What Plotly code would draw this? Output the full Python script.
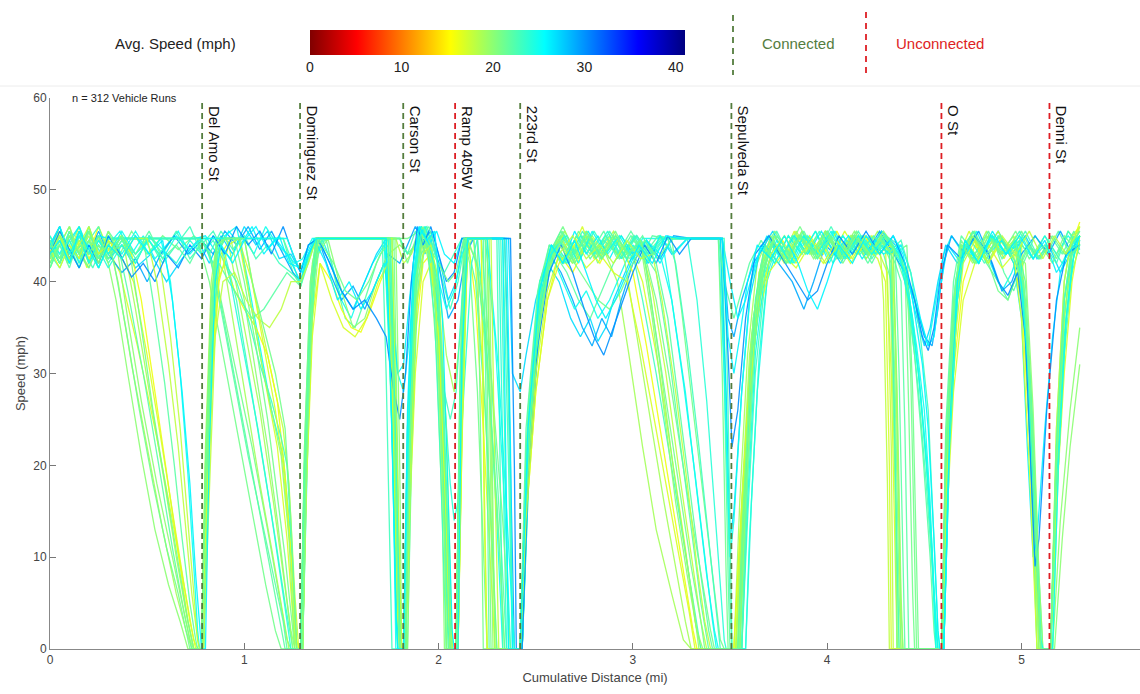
import plotly.graph_objects as go
from plotly.colors import sample_colorscale

# ---------------- data ----------------
intersection_names = ["Del Amo St", "Dominguez St", "Carson St", "Ramp 405W", "223rd St",
                      "Sepulveda St", "O St", "Denni St"]
intersection_mi = [0.783, 1.287, 1.818, 2.085, 2.42, 3.507, 4.588, 5.144]
intersection_connected = [True, True, True, False, True, True, False, False]

x_ticks = [0, 1, 2, 3, 4, 5]
y_ticks = [0, 10, 20, 30, 40, 50, 60]
cbar_ticks = [0, 10, 20, 30, 40]
n_runs_total = 312

# average speed (mph) of each drawn run -> colour
avg_speed = [17, 21, 23, 25, 19, 22, 27, 18, 22, 23, 29, 16, 21, 25, 20,
             23, 19, 26, 22, 24, 17, 23, 21, 30, 20, 25, 18, 22, 21, 26]

# each run: (cumulative distance mi, speed mph)
run01 = [(0,42.5),(0.04,45.5),(0.09,42),(0.14,44.5),(0.19,41.5),(0.24,45),(0.3,43.5),(0.36,41),(0.45,33),(0.55,23),(0.63,14),(0.7,6),(0.74,1),(0.76,0),(0.79,0),(0.81,16),(0.84,33),(0.88,43),(0.93,44.7),(0.97,44.7),(1.03,38),(1.1,30),(1.17,22),(1.22,12),(1.255,2),(1.27,0),(1.3,0),(1.32,22),(1.35,40),(1.39,44.7),(1.74,44.7),(1.77,28),(1.795,6),(1.81,0),(1.83,0),(1.85,22),(1.88,41),(1.92,44.5),(1.97,43),(2.0,34),(2.04,12),(2.06,0),(2.09,0),(2.11,28),(2.14,44.7),(2.18,44.7),(2.23,30),(2.27,12),(2.3,0),(2.42,0),(2.45,20),(2.5,36),(2.56,42),(2.62,45),(2.68,43),(2.74,46),(2.8,42.5),(2.86,45),(2.92,43),(2.98,44),(3.05,40),(3.13,31),(3.2,21),(3.27,11),(3.32,3),(3.35,0),(3.54,0),(3.57,14),(3.61,30),(3.66,40),(3.71,44),(3.77,42.5),(3.83,45.5),(3.89,43),(3.95,45),(4.02,42.5),(4.09,45.5),(4.16,43),(4.23,45),(4.3,43.5),(4.33,30),(4.35,10),(4.36,0),(4.59,0),(4.61,18),(4.64,34),(4.68,43),(4.73,45.5),(4.79,43),(4.85,45),(4.91,42.5),(4.97,45),(5.02,36),(5.06,18),(5.09,4),(5.1,0),(5.15,0),(5.18,20),(5.22,36),(5.26,43),(5.3,46)]
run02 = [(0,44),(0.05,42),(0.1,45),(0.15,43),(0.2,46),(0.25,42.5),(0.3,44.5),(0.36,43),(0.42,45.5),(0.5,43),(0.58,45),(0.66,43.5),(0.74,45),(0.8,44),(0.86,40),(0.95,31),(1.04,22),(1.12,13),(1.18,6),(1.22,1),(1.24,0),(1.29,0),(1.31,20),(1.34,38),(1.37,44.7),(1.84,44.7),(1.9,45.5),(1.95,43),(1.99,36),(2.02,18),(2.04,4),(2.05,0),(2.09,0),(2.11,26),(2.13,44.7),(2.16,42),(2.2,28),(2.23,10),(2.25,0),(2.42,0),(2.46,22),(2.52,38),(2.58,43.5),(2.64,46),(2.7,43),(2.76,45),(2.82,42),(2.88,44.5),(2.94,42.5),(3.0,45),(3.06,43),(3.12,38),(3.2,28),(3.28,17),(3.35,8),(3.4,2),(3.42,0),(3.55,0),(3.58,16),(3.62,32),(3.67,42),(3.73,45),(3.79,43),(3.86,46),(3.93,43),(4.0,45),(4.07,42.5),(4.14,45),(4.21,43),(4.28,45.5),(4.35,43),(4.41,44),(4.44,28),(4.46,8),(4.47,0),(4.59,0),(4.62,22),(4.66,38),(4.7,44),(4.76,45.5),(4.82,42.5),(4.88,45),(4.94,43),(5.0,45.5),(5.06,43),(5.12,45),(5.18,42.5),(5.24,45.5),(5.3,44)]
run03 = [(0,43),(0.05,45),(0.1,42.5),(0.16,44),(0.22,41.5),(0.28,44.5),(0.32,44.7),(0.78,44.7),(1.2,44.7),(1.25,42),(1.29,39.5),(1.33,43),(1.37,44.7),(1.72,44.7),(1.75,30),(1.78,10),(1.79,0),(1.83,0),(1.86,25),(1.89,42),(1.93,46),(1.97,44),(2.02,40),(2.06,37),(2.1,40),(2.14,44.7),(2.33,44.7),(2.36,20),(2.38,0),(2.43,0),(2.47,25),(2.53,40),(2.6,44),(2.67,42),(2.74,45.5),(2.81,43),(2.88,45),(2.95,42.5),(3.02,45),(3.09,43),(3.16,44.7),(3.46,44.7),(3.48,25),(3.5,5),(3.51,0),(3.55,0),(3.58,20),(3.62,36),(3.67,43),(3.74,45.5),(3.81,42.5),(3.88,45),(3.95,43),(4.02,46),(4.09,43),(4.16,45),(4.23,42.5),(4.3,45),(4.37,43),(4.42,38),(4.47,28),(4.51,18),(4.55,6),(4.57,0),(4.6,0),(4.63,24),(4.67,40),(4.71,44.5),(4.78,42.5),(4.85,45),(4.92,43),(4.99,44.5),(5.03,33),(5.07,14),(5.09,2),(5.1,0),(5.15,0),(5.18,22),(5.22,38),(5.26,44),(5.3,45.5)]
run04 = [(0,44.5),(0.05,42.5),(0.1,45.5),(0.15,43),(0.2,44.5),(0.25,41.5),(0.3,44),(0.36,45.5),(0.42,43),(0.48,45),(0.54,42.5),(0.6,44),(0.66,45.5),(0.72,43),(0.78,44.5),(0.84,42),(0.9,45),(0.96,46),(1.02,40),(1.08,33),(1.14,26),(1.2,21),(1.24,12),(1.26,3),(1.27,0),(1.3,0),(1.33,25),(1.36,41),(1.4,44.7),(1.45,42),(1.5,38),(1.55,36),(1.6,39),(1.66,42),(1.72,44),(1.76,38),(1.79,30),(1.82,28),(1.85,34),(1.88,42),(1.91,46),(1.95,44),(2.0,35),(2.03,15),(2.05,2),(2.06,0),(2.1,0),(2.12,30),(2.15,44.7),(2.2,44.7),(2.25,32),(2.3,14),(2.33,0),(2.42,0),(2.45,18),(2.5,34),(2.56,42),(2.63,45),(2.7,43),(2.77,45.5),(2.84,42.5),(2.91,44.5),(2.98,42),(3.05,44.7),(3.15,44.7),(3.2,38),(3.27,28),(3.33,17),(3.38,8),(3.42,2),(3.44,0),(3.58,0),(3.6,12),(3.64,28),(3.69,40),(3.75,44),(3.82,42),(3.89,45),(3.96,43),(4.03,45.5),(4.1,42.5),(4.17,45),(4.24,43),(4.31,44.5),(4.38,42),(4.44,39),(4.49,35),(4.52,33),(4.56,38),(4.6,43),(4.64,45),(4.7,43),(4.77,45.5),(4.84,42),(4.9,39),(4.95,41),(5.0,44),(5.06,42.5),(5.12,45),(5.18,43),(5.24,45),(5.3,43.5)]
run05 = [(0,41.5),(0.05,44),(0.1,46),(0.15,43),(0.2,45),(0.25,42),(0.3,44.5),(0.35,40),(0.42,31),(0.5,22),(0.58,13),(0.65,6),(0.7,2),(0.73,0),(0.78,0),(0.8,18),(0.83,36),(0.86,44),(0.9,44.7),(0.92,44),(1.0,35),(1.08,26),(1.15,16),(1.2,8),(1.24,2),(1.26,0),(1.29,0),(1.32,24),(1.35,42),(1.38,44.7),(1.76,44.7),(1.78,22),(1.8,4),(1.81,0),(1.83,0),(1.85,20),(1.88,40),(1.92,44),(1.96,43),(2.0,40),(2.04,32),(2.08,28),(2.11,34),(2.14,42),(2.17,44.7),(2.25,44.7),(2.27,22),(2.29,0),(2.42,0),(2.46,20),(2.52,36),(2.58,43),(2.65,45.5),(2.72,42.5),(2.79,45),(2.86,43),(2.92,40),(2.98,32),(3.05,22),(3.12,13),(3.2,6),(3.26,1),(3.3,0),(3.52,0),(3.55,16),(3.59,32),(3.64,42),(3.7,45),(3.77,42.5),(3.84,45.5),(3.91,43),(3.98,45),(4.05,42.5),(4.12,45),(4.19,43),(4.26,45.5),(4.32,43),(4.34,26),(4.36,6),(4.37,0),(4.59,0),(4.61,20),(4.65,36),(4.69,44),(4.75,42.5),(4.82,45.5),(4.89,43),(4.96,45),(5.01,38),(5.05,20),(5.08,6),(5.1,0),(5.15,0),(5.18,18),(5.22,34),(5.26,42),(5.3,45)]
run06 = [(0,44),(0.05,42),(0.1,44.5),(0.15,42.5),(0.2,46),(0.25,43),(0.3,44.7),(0.8,44.7),(0.85,41),(0.92,33),(1.0,24),(1.07,16),(1.13,9),(1.18,3),(1.21,0),(1.29,0),(1.31,18),(1.34,36),(1.37,43),(1.42,44.7),(1.47,40),(1.52,36),(1.57,35),(1.62,38),(1.68,42),(1.74,44.7),(1.8,44.7),(1.84,43),(1.88,44),(1.92,45.5),(1.96,43),(2.0,33),(2.03,14),(2.04,0),(2.09,0),(2.12,28),(2.15,44.7),(2.22,44.7),(2.27,30),(2.32,12),(2.35,0),(2.43,0),(2.47,24),(2.53,38),(2.6,43),(2.66,41),(2.72,38),(2.78,36),(2.84,39),(2.9,42),(2.96,44),(3.03,42),(3.1,45),(3.17,44.7),(3.45,44.7),(3.47,30),(3.49,8),(3.5,0),(3.54,0),(3.57,18),(3.61,34),(3.66,42),(3.72,44.5),(3.79,42),(3.86,45),(3.93,43),(4.0,45.5),(4.07,42.5),(4.14,45),(4.21,43),(4.28,45),(4.35,43),(4.4,40),(4.45,32),(4.49,22),(4.53,10),(4.55,2),(4.56,0),(4.6,0),(4.63,22),(4.67,38),(4.71,44),(4.78,42.5),(4.85,45),(4.91,41),(4.96,39),(5.01,42),(5.07,45),(5.13,43),(5.19,45.5),(5.25,43),(5.3,44.5)]
run07 = [(0,43.5),(0.05,46),(0.1,43),(0.15,45.5),(0.2,42),(0.25,44),(0.3,42.5),(0.37,44),(0.44,41.5),(0.52,43),(0.6,40),(0.68,42.5),(0.76,44.5),(0.82,42),(0.88,45),(0.94,43),(1.0,46),(1.06,44),(1.12,45.5),(1.18,42.5),(1.24,43),(1.29,41),(1.33,44),(1.38,44.7),(1.44,42),(1.5,39),(1.56,37),(1.62,40),(1.68,43),(1.73,44.7),(1.76,26),(1.78,6),(1.79,0),(1.82,0),(1.84,24),(1.87,40),(1.9,46),(1.93,43),(1.97,45.5),(2.01,42),(2.05,38),(2.09,40),(2.13,44.7),(2.36,44.7),(2.38,30),(2.4,29),(2.42,28),(2.45,32),(2.5,38),(2.56,42),(2.62,40),(2.68,36),(2.73,34),(2.78,36),(2.82,33.5),(2.86,35),(2.9,38),(2.96,41),(3.02,44),(3.08,42),(3.14,45),(3.2,43),(3.28,44.7),(3.45,44.7),(3.48,28),(3.5,12),(3.52,15),(3.56,28),(3.6,38),(3.65,43),(3.72,45.5),(3.79,42.5),(3.86,45),(3.93,43),(4.0,44.5),(4.07,42),(4.14,45),(4.21,43),(4.28,45.5),(4.35,44),(4.4,42),(4.45,37),(4.5,33),(4.53,35),(4.57,40),(4.61,44),(4.67,42),(4.74,45),(4.81,43),(4.88,45.5),(4.95,43),(5.02,45),(5.08,42.5),(5.14,44),(5.2,41),(5.25,43),(5.3,45)]
run08 = [(0,42),(0.05,45),(0.1,43),(0.15,46),(0.2,42.5),(0.25,44.5),(0.3,43),(0.37,45),(0.44,43),(0.5,44.7),(0.56,43),(0.62,34),(0.67,24),(0.71,14),(0.74,6),(0.76,1),(0.77,0),(0.79,0),(0.82,20),(0.85,38),(0.88,44.7),(1.0,44.7),(1.05,39),(1.1,34),(1.15,29),(1.2,24),(1.23,18),(1.26,6),(1.28,0),(1.3,0),(1.32,22),(1.35,40),(1.38,44.7),(1.78,44.7),(1.82,42),(1.86,43),(1.9,45),(1.94,43),(1.98,39),(2.02,24),(2.05,8),(2.07,0),(2.1,0),(2.12,24),(2.14,44.7),(2.22,44.7),(2.235,18),(2.25,0),(2.42,0),(2.45,16),(2.5,32),(2.56,41),(2.62,44.5),(2.69,42),(2.76,45),(2.83,43),(2.9,45.5),(2.97,43),(3.04,44),(3.1,39),(3.17,30),(3.24,19),(3.3,10),(3.35,3),(3.38,0),(3.53,0),(3.56,14),(3.6,30),(3.65,41),(3.71,44.5),(3.78,42),(3.85,45),(3.92,43),(3.99,45.5),(4.06,43),(4.13,45),(4.2,42.5),(4.27,44.5),(4.29,38),(4.31,18),(4.32,0),(4.59,0),(4.61,16),(4.64,32),(4.68,42),(4.74,45),(4.81,43),(4.88,45.5),(4.95,42.5),(5.0,44),(5.04,30),(5.07,12),(5.09,0),(5.15,0),(5.18,24),(5.22,40),(5.26,45),(5.3,46)]
run09 = [(0,45),(0.05,42.5),(0.1,44),(0.15,41.5),(0.2,44.5),(0.25,43),(0.3,45.5),(0.35,44),(0.4,39),(0.48,30),(0.56,20),(0.63,11),(0.69,4),(0.73,0),(0.78,0),(0.8,16),(0.83,34),(0.86,43),(0.9,44.7),(1.2,44.7),(1.25,41),(1.29,39.5),(1.32,42),(1.36,44.7),(1.75,44.7),(1.77,26),(1.79,8),(1.8,0),(1.83,0),(1.85,18),(1.88,36),(1.91,43),(1.95,44.5),(1.99,41),(2.02,30),(2.05,12),(2.07,0),(2.09,0),(2.11,22),(2.14,44.7),(2.19,40),(2.24,26),(2.28,10),(2.3,0),(2.42,0),(2.45,22),(2.51,38),(2.57,44),(2.64,42),(2.71,45),(2.78,42.5),(2.85,44.5),(2.92,43),(2.99,45.5),(3.06,43),(3.13,45),(3.2,44.7),(3.44,44.7),(3.47,40),(3.52,36),(3.56,39),(3.6,42),(3.66,44.5),(3.73,42),(3.8,45),(3.87,43),(3.94,45.5),(4.01,42.5),(4.08,45),(4.15,43),(4.22,45),(4.29,43),(4.33,40),(4.35,20),(4.36,0),(4.59,0),(4.61,20),(4.65,36),(4.69,43),(4.75,45.5),(4.82,42),(4.88,40),(4.93,38),(4.98,41),(5.03,44),(5.09,42.5),(5.15,45),(5.21,43),(5.27,45.5),(5.3,44)]
run10 = [(0,43),(0.05,41.5),(0.1,44),(0.15,46),(0.2,43.5),(0.25,45),(0.3,42),(0.37,44.5),(0.44,42),(0.51,45),(0.58,43),(0.65,45.5),(0.72,42.5),(0.78,44),(0.84,45.5),(0.9,43),(0.96,38),(1.03,29),(1.1,20),(1.16,12),(1.21,5),(1.24,1),(1.25,0),(1.3,0),(1.32,20),(1.35,38),(1.38,44.7),(1.73,44.7),(1.76,24),(1.78,5),(1.79,0),(1.82,0),(1.84,22),(1.87,40),(1.9,45.5),(1.94,46),(1.98,43),(2.03,41),(2.08,43),(2.12,44.7),(2.3,44.7),(2.32,16),(2.33,0),(2.43,0),(2.47,22),(2.53,37),(2.59,43),(2.66,45),(2.73,42.5),(2.8,45.5),(2.87,43),(2.94,45),(3.0,43),(3.05,38),(3.12,30),(3.19,21),(3.26,12),(3.32,4),(3.35,0),(3.56,0),(3.59,14),(3.63,30),(3.68,40),(3.74,44),(3.81,42),(3.88,45),(3.95,42.5),(4.02,44.5),(4.09,43),(4.16,45.5),(4.23,43),(4.3,45),(4.37,44),(4.42,39),(4.47,30),(4.51,20),(4.54,10),(4.56,0),(4.59,0),(4.62,24),(4.66,40),(4.7,44),(4.77,42),(4.84,45),(4.91,43),(4.97,44.5),(5.02,34),(5.06,16),(5.08,4),(5.09,0),(5.15,0),(5.18,16),(5.22,32),(5.26,41),(5.3,44)]
run11 = [(0,44),(0.05,46),(0.1,42.5),(0.15,45),(0.2,43),(0.25,45.5),(0.3,43),(0.37,41),(0.44,42.5),(0.5,40),(0.57,43),(0.64,45),(0.71,43),(0.78,44.5),(0.84,43),(0.9,45.5),(0.96,44),(1.02,46),(1.08,43.5),(1.14,45.5),(1.2,43),(1.25,41),(1.29,40),(1.33,43),(1.38,44.7),(1.44,41),(1.5,38),(1.56,39.5),(1.62,37),(1.68,40),(1.74,43),(1.8,42),(1.84,44),(1.88,46),(1.92,44.5),(1.96,45.5),(2.0,42),(2.05,36),(2.1,38),(2.14,43),(2.18,44.7),(2.34,44.7),(2.36,30),(2.38,12),(2.39,0),(2.43,0),(2.46,20),(2.51,36),(2.57,43),(2.63,41),(2.69,38),(2.74,35),(2.79,33),(2.84,36),(2.89,34),(2.94,38),(3.0,42),(3.07,44.5),(3.14,42.5),(3.21,45),(3.3,44.7),(3.46,44.7),(3.49,36),(3.52,34),(3.56,38),(3.62,42),(3.68,44),(3.75,42),(3.82,40),(3.88,37),(3.93,40),(3.99,44),(4.06,42.5),(4.13,45),(4.2,43),(4.27,45.5),(4.34,43),(4.4,41),(4.45,38),(4.5,34),(4.54,33),(4.57,37),(4.6,42),(4.64,45),(4.71,43),(4.78,45.5),(4.85,42),(4.9,39),(4.95,40),(5.0,43),(5.07,45),(5.14,43),(5.2,45.5),(5.26,43),(5.3,44.5)]
run12 = [(0,43),(0.05,45),(0.1,42),(0.15,44.5),(0.2,43),(0.25,46),(0.3,43.5),(0.36,45),(0.42,43),(0.47,38),(0.54,28),(0.61,18),(0.67,9),(0.71,3),(0.74,0),(0.78,0),(0.8,14),(0.83,30),(0.86,40),(0.9,42),(0.95,39),(1.0,37),(1.06,35),(1.12,32),(1.17,27),(1.21,19),(1.25,8),(1.27,1),(1.28,0),(1.3,0),(1.32,20),(1.35,36),(1.39,42),(1.45,40),(1.5,37),(1.55,35),(1.6,34.5),(1.65,37),(1.7,40),(1.74,42),(1.77,24),(1.79,6),(1.8,0),(1.83,0),(1.85,16),(1.88,34),(1.92,42),(1.96,43),(2.0,36),(2.03,20),(2.06,4),(2.07,0),(2.1,0),(2.12,24),(2.15,44.7),(2.19,38),(2.23,24),(2.27,8),(2.29,0),(2.42,0),(2.45,14),(2.5,28),(2.56,38),(2.62,43),(2.69,41),(2.76,44),(2.83,42),(2.9,45),(2.97,42.5),(3.0,41),(3.07,33),(3.14,24),(3.21,15),(3.27,7),(3.31,2),(3.33,0),(3.52,0),(3.55,12),(3.59,26),(3.64,37),(3.7,42),(3.77,44.5),(3.84,42),(3.91,45),(3.98,43),(4.05,45.5),(4.12,42.5),(4.19,45),(4.26,43),(4.33,44),(4.35,34),(4.37,12),(4.38,0),(4.59,0),(4.61,14),(4.65,30),(4.7,40),(4.76,44),(4.83,42),(4.9,44.5),(4.96,42),(5.0,38),(5.04,24),(5.07,8),(5.08,0),(5.15,0),(5.18,20),(5.22,36),(5.26,44),(5.3,46.5)]
run13 = [(0,41.5),(0.05,44.5),(0.1,42),(0.15,45),(0.2,43.5),(0.25,41.5),(0.3,44),(0.34,44.7),(0.76,44.7),(0.82,40),(0.9,31),(0.98,22),(1.05,14),(1.11,7),(1.16,2),(1.19,0),(1.29,0),(1.31,22),(1.34,40),(1.37,44.7),(1.77,44.7),(1.79,20),(1.8,0),(1.83,0),(1.85,26),(1.88,42),(1.92,45),(1.96,43),(2.0,38),(2.03,22),(2.05,6),(2.06,0),(2.09,0),(2.11,30),(2.13,44.7),(2.2,44.7),(2.22,18),(2.23,0),(2.42,0),(2.46,26),(2.52,40),(2.58,44),(2.65,42),(2.72,45.5),(2.79,43),(2.86,45),(2.93,42.5),(3.0,44.5),(3.07,43),(3.14,44.7),(3.2,44.7),(3.25,37),(3.31,26),(3.37,15),(3.42,6),(3.45,1),(3.47,0),(3.55,0),(3.58,18),(3.62,34),(3.67,42),(3.73,45),(3.8,42.5),(3.87,45.5),(3.94,43),(4.01,45),(4.08,42),(4.15,44.5),(4.22,43),(4.29,45),(4.36,43),(4.4,42),(4.42,26),(4.44,6),(4.45,0),(4.59,0),(4.61,22),(4.65,38),(4.69,44.5),(4.76,42),(4.83,45),(4.9,43),(4.97,45.5),(5.04,42.5),(5.1,44),(5.16,42),(5.22,45),(5.3,43)]
run14 = [(0,44.5),(0.05,43),(0.1,45.5),(0.15,42),(0.2,44),(0.25,42.5),(0.3,45),(0.37,43),(0.44,45.5),(0.51,43),(0.57,44.7),(0.62,40),(0.67,30),(0.71,19),(0.74,9),(0.76,2),(0.77,0),(0.79,0),(0.81,20),(0.84,38),(0.87,44),(0.93,42.5),(0.99,45),(1.05,43),(1.11,46),(1.17,44),(1.22,43),(1.26,42),(1.3,42.5),(1.35,44.7),(1.72,44.7),(1.75,32),(1.77,14),(1.78,0),(1.82,0),(1.84,20),(1.87,38),(1.9,45),(1.93,46),(1.97,43),(2.01,34),(2.04,16),(2.06,3),(2.07,0),(2.1,0),(2.12,26),(2.15,44.7),(2.24,44.7),(2.29,34),(2.34,16),(2.37,0),(2.42,0),(2.46,24),(2.52,40),(2.58,43),(2.64,40),(2.7,37),(2.76,39),(2.82,36),(2.88,38),(2.94,41),(3.0,44),(3.07,42),(3.14,45),(3.21,43),(3.28,44.7),(3.44,44.7),(3.47,30),(3.49,16),(3.5,10),(3.52,14),(3.56,28),(3.61,40),(3.66,44),(3.73,42),(3.8,45),(3.87,43),(3.94,45.5),(4.01,42),(4.08,45),(4.15,43),(4.22,44.5),(4.29,43),(4.36,44),(4.41,40),(4.46,33),(4.5,26),(4.53,16),(4.55,5),(4.56,0),(4.6,0),(4.63,24),(4.67,40),(4.71,44),(4.78,42),(4.85,45),(4.92,43),(4.98,44),(5.02,36),(5.05,24),(5.08,10),(5.1,0),(5.15,0),(5.18,22),(5.22,38),(5.26,43),(5.3,44.5)]
run15 = [(0,44),(0.05,42),(0.1,45),(0.15,43.5),(0.2,41.5),(0.25,44),(0.3,42),(0.34,38),(0.4,30),(0.47,21),(0.54,13),(0.61,7),(0.67,3),(0.71,0),(0.78,0),(0.8,20),(0.83,38),(0.86,44.7),(0.93,44.7),(1.0,38),(1.06,30),(1.12,22),(1.17,14),(1.21,7),(1.24,2),(1.25,0),(1.3,0),(1.32,18),(1.35,36),(1.38,43),(1.43,44.7),(1.5,39),(1.56,35),(1.62,36),(1.68,40),(1.74,43),(1.8,44),(1.85,43),(1.9,45),(1.95,43.5),(1.99,32),(2.02,14),(2.03,0),(2.09,0),(2.11,22),(2.14,44.7),(2.25,44.7),(2.27,14),(2.28,0),(2.42,0),(2.45,18),(2.51,34),(2.57,42),(2.63,45),(2.7,42),(2.77,44.5),(2.84,42.5),(2.91,45),(2.98,43),(3.04,44),(3.1,36),(3.16,26),(3.22,16),(3.28,8),(3.33,2),(3.36,0),(3.54,0),(3.57,16),(3.61,32),(3.66,41),(3.72,44),(3.79,42),(3.86,45),(3.93,42.5),(4.0,45),(4.07,43),(4.14,45.5),(4.21,43),(4.28,44.5),(4.33,42),(4.35,22),(4.36,0),(4.59,0),(4.61,18),(4.65,34),(4.69,43),(4.75,45),(4.82,42),(4.89,44.5),(4.96,42.5),(5.01,40),(5.05,28),(5.08,12),(5.1,0),(5.16,0),(5.2,14),(5.25,26),(5.3,35)]
run16 = [(0,42.5),(0.05,45),(0.1,43.5),(0.15,41.5),(0.2,44.5),(0.25,46),(0.3,43),(0.37,45),(0.44,42.5),(0.51,44.5),(0.58,42),(0.65,44),(0.72,46),(0.78,43),(0.84,44.5),(0.9,42),(0.96,40),(1.02,36),(1.08,31),(1.14,27),(1.19,23),(1.22,20),(1.25,9),(1.27,0),(1.29,0),(1.31,16),(1.34,34),(1.37,43),(1.41,44.7),(1.8,44.7),(1.84,43),(1.88,45.5),(1.92,44),(1.96,45),(2.0,36),(2.03,28),(2.06,25),(2.09,28),(2.12,38),(2.15,44.7),(2.32,44.7),(2.345,18),(2.36,0),(2.42,0),(2.45,20),(2.5,35),(2.56,42),(2.62,44.5),(2.69,42.5),(2.76,45.5),(2.83,43),(2.9,45),(2.97,42.5),(3.04,44.5),(3.11,43),(3.18,44.7),(3.22,42),(3.28,33),(3.34,22),(3.39,12),(3.43,4),(3.45,0),(3.53,0),(3.56,14),(3.6,28),(3.65,39),(3.71,44),(3.78,42.5),(3.85,45),(3.92,43),(3.99,45.5),(4.06,42.5),(4.13,44.5),(4.2,43),(4.27,45),(4.32,43.5),(4.34,32),(4.36,10),(4.37,0),(4.59,0),(4.61,16),(4.64,32),(4.68,42),(4.74,44.5),(4.81,42),(4.88,45),(4.95,43),(5.02,45.5),(5.09,42.5),(5.15,44),(5.21,42),(5.27,45),(5.3,44)]
run17 = [(0,43),(0.05,45.5),(0.1,43),(0.15,44.5),(0.2,42),(0.25,45),(0.3,43),(0.38,44),(0.44,37),(0.52,27),(0.59,18),(0.65,10),(0.7,4),(0.74,0),(0.78,0),(0.8,22),(0.83,40),(0.86,44.7),(0.88,44),(0.94,36),(1.01,27),(1.08,18),(1.14,11),(1.19,5),(1.22,1),(1.23,0),(1.29,0),(1.31,20),(1.34,38),(1.37,44.7),(1.74,44.7),(1.77,22),(1.79,4),(1.8,0),(1.83,0),(1.85,22),(1.88,40),(1.92,45.5),(1.96,43),(2.0,38),(2.03,20),(2.05,4),(2.06,0),(2.09,0),(2.11,26),(2.14,44.7),(2.2,42),(2.26,28),(2.31,12),(2.34,0),(2.42,0),(2.45,20),(2.51,36),(2.57,43),(2.64,45),(2.71,42.5),(2.78,45),(2.85,43),(2.92,44.5),(2.96,42),(3.02,34),(3.09,25),(3.16,16),(3.22,9),(3.27,3),(3.3,0),(3.53,0),(3.56,16),(3.6,32),(3.65,41),(3.71,45),(3.78,42.5),(3.85,45),(3.92,43),(3.99,45.5),(4.06,43),(4.13,45),(4.2,42.5),(4.27,44.5),(4.34,43),(4.36,28),(4.38,6),(4.39,0),(4.59,0),(4.61,20),(4.65,36),(4.69,44),(4.75,42),(4.82,45),(4.89,43),(4.96,44.5),(5.01,37),(5.05,20),(5.08,5),(5.09,0),(5.15,0),(5.18,24),(5.22,40),(5.26,45),(5.3,45.5)]
run18 = [(0,44),(0.05,42),(0.1,44.5),(0.15,46),(0.2,43),(0.25,45),(0.3,44.7),(0.75,44.7),(0.8,45),(0.86,43),(0.92,45.5),(0.98,44),(1.04,46),(1.1,43),(1.16,44.7),(1.22,43),(1.29,40),(1.32,43),(1.36,44.7),(1.42,42),(1.48,38),(1.54,40),(1.6,37),(1.66,39),(1.72,42),(1.76,36),(1.79,30),(1.82,31),(1.85,38),(1.88,44),(1.91,46),(1.95,44),(1.99,45.5),(2.03,43),(2.08,42),(2.12,44.7),(2.35,44.7),(2.37,22),(2.38,0),(2.43,0),(2.46,22),(2.52,38),(2.58,44),(2.64,42),(2.7,45.5),(2.76,43),(2.82,45),(2.88,42.5),(2.94,45),(3.0,43),(3.07,44.5),(3.14,42),(3.2,44.7),(3.46,44.7),(3.5,40),(3.54,36),(3.58,38),(3.63,42),(3.69,45),(3.76,42.5),(3.83,45),(3.9,43),(3.97,45.5),(4.04,43),(4.11,45),(4.18,42.5),(4.25,44.5),(4.32,43),(4.38,44),(4.43,41),(4.48,36),(4.52,33),(4.55,34),(4.58,39),(4.62,44),(4.69,42),(4.76,45),(4.83,43),(4.9,44.5),(4.96,42),(5.0,36),(5.03,22),(5.06,10),(5.08,12),(5.12,24),(5.16,34),(5.2,41),(5.25,44),(5.3,45)]
run19 = [(0,42),(0.05,44),(0.1,41.5),(0.15,45),(0.2,43),(0.25,44.5),(0.3,42.5),(0.36,44.7),(0.48,44.7),(0.53,38),(0.59,29),(0.64,20),(0.68,12),(0.72,5),(0.75,1),(0.76,0),(0.79,0),(0.81,18),(0.84,35),(0.87,42),(0.92,40),(0.98,38),(1.04,36),(1.1,37),(1.16,39),(1.22,41),(1.29,39.5),(1.33,42),(1.37,44.7),(1.76,44.7),(1.78,24),(1.8,6),(1.81,0),(1.84,0),(1.86,20),(1.89,38),(1.93,44),(1.97,42),(2.01,28),(2.04,10),(2.05,0),(2.09,0),(2.11,20),(2.14,44.7),(2.23,44.7),(2.25,20),(2.26,0),(2.42,0),(2.45,24),(2.51,39),(2.57,44),(2.64,42),(2.71,45),(2.78,43),(2.85,45.5),(2.92,42.5),(2.99,45),(3.06,43),(3.12,41),(3.18,33),(3.24,23),(3.3,13),(3.35,5),(3.39,0),(3.54,0),(3.57,15),(3.61,30),(3.66,40),(3.72,44.5),(3.79,42),(3.86,45),(3.93,43),(4.0,45.5),(4.07,43),(4.14,44.5),(4.21,42),(4.28,45),(4.35,42),(4.38,40),(4.4,24),(4.42,0),(4.59,0),(4.61,24),(4.65,40),(4.69,45),(4.76,43),(4.83,45.5),(4.9,42.5),(4.97,44.5),(5.02,40),(5.06,24),(5.09,8),(5.11,0),(5.16,0),(5.19,20),(5.23,36),(5.27,43),(5.3,44.5)]
run20 = [(0,45),(0.05,43),(0.1,44.5),(0.15,42),(0.2,45.5),(0.25,43.5),(0.3,41.5),(0.37,44),(0.44,42),(0.51,45),(0.58,43.5),(0.65,42),(0.72,44.5),(0.78,43),(0.84,45),(0.88,44),(0.93,40),(1.0,32),(1.07,24),(1.13,16),(1.18,9),(1.22,3),(1.24,0),(1.29,0),(1.31,20),(1.34,38),(1.37,44.7),(1.75,44.7),(1.78,26),(1.8,6),(1.81,0),(1.83,0),(1.85,24),(1.88,40),(1.91,46),(1.95,44.5),(1.99,40),(2.03,28),(2.06,18),(2.08,14),(2.1,16),(2.13,28),(2.17,42),(2.2,44.7),(2.31,44.7),(2.33,22),(2.35,0),(2.43,0),(2.47,22),(2.53,38),(2.59,44),(2.66,42),(2.73,45),(2.8,43),(2.87,45.5),(2.94,42.5),(3.01,45),(3.08,43),(3.15,44.7),(3.28,44.7),(3.33,38),(3.38,27),(3.42,16),(3.45,7),(3.47,1),(3.48,0),(3.58,0),(3.61,16),(3.65,32),(3.7,42),(3.76,44.5),(3.83,42),(3.9,45),(3.97,43),(4.04,45.5),(4.11,42.5),(4.18,45),(4.25,43),(4.32,44.5),(4.39,42),(4.44,36),(4.48,28),(4.52,18),(4.55,6),(4.57,0),(4.6,0),(4.63,22),(4.67,38),(4.71,44),(4.78,42),(4.85,45),(4.92,43),(4.99,44.5),(5.03,30),(5.06,12),(5.08,0),(5.15,0),(5.18,18),(5.22,34),(5.26,42),(5.3,45)]
run21 = [(0,43.5),(0.05,41.5),(0.1,44),(0.15,42.5),(0.2,45.5),(0.25,43),(0.3,44.5),(0.36,43),(0.43,40),(0.5,32),(0.57,23),(0.63,15),(0.68,8),(0.72,3),(0.75,0),(0.78,0),(0.8,12),(0.83,28),(0.87,40),(0.92,44),(0.97,44.7),(1.04,40),(1.1,33),(1.16,26),(1.2,20),(1.24,10),(1.26,2),(1.27,0),(1.3,0),(1.32,18),(1.35,34),(1.39,42),(1.45,38),(1.51,35),(1.57,34),(1.63,36),(1.69,40),(1.74,42),(1.77,22),(1.79,4),(1.8,0),(1.83,0),(1.85,14),(1.88,30),(1.92,40),(1.96,42),(2.0,34),(2.04,14),(2.06,0),(2.1,0),(2.12,22),(2.15,44.7),(2.22,44.7),(2.235,14),(2.25,0),(2.42,0),(2.45,14),(2.5,28),(2.56,38),(2.62,42),(2.69,44),(2.76,41.5),(2.83,43),(2.9,41),(2.97,40),(3.04,33),(3.11,25),(3.18,17),(3.24,10),(3.29,4),(3.32,0),(3.52,0),(3.55,12),(3.59,26),(3.64,36),(3.7,41),(3.77,43),(3.84,41.5),(3.91,44),(3.98,42),(4.05,44.5),(4.12,42),(4.19,44),(4.26,42.5),(4.3,40),(4.32,20),(4.33,0),(4.59,0),(4.61,12),(4.65,28),(4.7,38),(4.76,42),(4.83,44),(4.9,41.5),(4.96,43),(5.0,36),(5.04,20),(5.07,4),(5.08,0),(5.15,0),(5.18,16),(5.22,30),(5.26,40),(5.3,45)]
run22 = [(0,43),(0.05,45),(0.1,42),(0.15,44),(0.2,45.5),(0.25,42.5),(0.3,44.7),(0.78,44.7),(0.82,43),(0.88,45.5),(0.94,43.5),(1.0,45),(1.06,42.5),(1.12,44),(1.18,42),(1.24,41),(1.29,40),(1.33,42.5),(1.37,44.7),(1.71,44.7),(1.73,30),(1.75,10),(1.76,0),(1.82,0),(1.84,24),(1.87,40),(1.9,45),(1.94,44),(1.98,36),(2.01,20),(2.03,6),(2.04,0),(2.09,0),(2.11,24),(2.14,44.7),(2.34,44.7),(2.36,26),(2.38,4),(2.39,0),(2.43,0),(2.47,26),(2.53,40),(2.6,44),(2.67,42),(2.74,45),(2.81,42.5),(2.88,45.5),(2.95,43),(3.02,45),(3.09,42.5),(3.16,44.7),(3.47,44.7),(3.49,26),(3.5,10),(3.51,0),(3.56,0),(3.59,22),(3.63,38),(3.68,44),(3.75,42),(3.82,45),(3.89,43),(3.96,45.5),(4.03,42),(4.1,44.5),(4.17,43),(4.24,45),(4.31,43),(4.38,44.5),(4.43,41),(4.48,34),(4.52,26),(4.55,12),(4.57,2),(4.58,0),(4.6,0),(4.63,26),(4.67,40),(4.71,44.5),(4.78,42),(4.85,45),(4.92,43),(4.99,45.5),(5.06,42.5),(5.12,44),(5.18,42),(5.24,45.5),(5.3,43.5)]
run23 = [(0,44),(0.05,42.5),(0.1,45.5),(0.15,43),(0.2,41.5),(0.25,44),(0.3,42.5),(0.37,45),(0.42,42),(0.47,35),(0.53,26),(0.6,17),(0.66,9),(0.71,3),(0.74,0),(0.78,0),(0.8,20),(0.83,38),(0.86,44.7),(0.95,44.7),(1.0,40),(1.06,33),(1.12,25),(1.17,17),(1.21,10),(1.24,4),(1.26,0),(1.29,0),(1.31,22),(1.34,40),(1.37,44.7),(1.8,44.7),(1.84,42),(1.88,44.5),(1.92,46),(1.96,44),(2.0,38),(2.03,22),(2.06,6),(2.07,0),(2.1,0),(2.12,30),(2.15,44.7),(2.21,41),(2.27,30),(2.33,14),(2.37,0),(2.42,0),(2.46,24),(2.52,38),(2.58,43),(2.64,45.5),(2.7,42),(2.76,40),(2.82,38),(2.88,37),(2.94,39),(3.0,42),(3.06,44.5),(3.13,42.5),(3.2,44.7),(3.44,44.7),(3.46,30),(3.48,8),(3.49,0),(3.55,0),(3.58,20),(3.62,36),(3.67,43),(3.73,45.5),(3.8,43),(3.87,45),(3.94,42.5),(4.01,44.5),(4.08,43),(4.15,45.5),(4.22,43),(4.29,45),(4.36,43),(4.41,41),(4.43,30),(4.45,10),(4.46,0),(4.59,0),(4.61,18),(4.65,34),(4.69,43),(4.76,45),(4.83,42),(4.88,39),(4.93,38),(4.98,41),(5.04,44),(5.1,42.5),(5.16,45),(5.22,43),(5.3,45.5)]
run24 = [(0,43),(0.05,45.5),(0.1,43.5),(0.15,41.5),(0.2,44),(0.25,42),(0.3,45),(0.36,43),(0.42,40.5),(0.48,42),(0.54,40),(0.6,43),(0.66,41.5),(0.72,44),(0.78,42.5),(0.84,45),(0.9,43),(0.96,46),(1.02,44),(1.08,45.5),(1.14,43),(1.2,46),(1.25,43),(1.29,41),(1.33,44),(1.38,44.7),(1.44,42),(1.5,39),(1.56,37),(1.62,38),(1.68,36),(1.73,34),(1.77,28),(1.8,25),(1.83,30),(1.86,40),(1.89,46),(1.92,44),(1.96,46),(2.0,43),(2.04,40),(2.08,41),(2.12,44.7),(2.37,44.7),(2.39,20),(2.4,0),(2.43,0),(2.46,18),(2.51,33),(2.57,41),(2.63,44),(2.69,41),(2.75,37),(2.8,34),(2.85,32),(2.9,35),(2.95,38),(3.0,41),(3.06,44),(3.12,42),(3.18,45),(3.24,43),(3.3,44.7),(3.46,44.7),(3.49,32),(3.51,22),(3.54,26),(3.58,36),(3.63,43),(3.7,45),(3.77,42.5),(3.84,40),(3.9,38),(3.95,39),(4.0,42),(4.06,45),(4.13,43),(4.2,45.5),(4.27,43),(4.34,45),(4.4,42),(4.45,38),(4.49,34),(4.52,32.5),(4.55,35),(4.58,40),(4.62,44),(4.69,42.5),(4.76,45),(4.83,43),(4.88,40),(4.93,38.5),(4.98,41),(5.02,34),(5.05,20),(5.07,9),(5.09,12),(5.13,26),(5.18,38),(5.23,43),(5.3,44)]
run25 = [(0,42.5),(0.05,44),(0.1,46),(0.15,43),(0.2,44.5),(0.25,42),(0.3,45.5),(0.35,43),(0.4,36),(0.47,27),(0.55,18),(0.62,11),(0.68,5),(0.72,1),(0.74,0),(0.78,0),(0.8,16),(0.83,34),(0.86,43),(0.9,44.7),(0.98,44.7),(1.03,38),(1.09,31),(1.15,25),(1.19,21),(1.23,12),(1.25,3),(1.26,0),(1.3,0),(1.32,24),(1.35,40),(1.38,44.7),(1.78,44.7),(1.8,20),(1.81,0),(1.84,0),(1.86,22),(1.89,40),(1.93,44),(1.97,42),(2.0,30),(2.03,12),(2.04,0),(2.09,0),(2.11,26),(2.14,44.7),(2.26,44.7),(2.28,16),(2.29,0),(2.42,0),(2.45,16),(2.5,32),(2.56,41),(2.62,44),(2.69,42),(2.76,45.5),(2.83,42.5),(2.9,45),(2.97,43),(3.04,44.5),(3.08,40),(3.14,31),(3.2,21),(3.26,12),(3.31,5),(3.34,0),(3.55,0),(3.58,16),(3.62,32),(3.67,41),(3.73,45),(3.8,42),(3.87,45.5),(3.94,43),(4.01,45),(4.08,42.5),(4.15,45),(4.22,43),(4.29,45.5),(4.34,44),(4.36,26),(4.38,4),(4.39,0),(4.59,0),(4.61,18),(4.65,34),(4.69,42),(4.75,45),(4.82,42.5),(4.89,45),(4.96,43),(5.02,42),(5.06,26),(5.09,8),(5.11,0),(5.17,0),(5.21,12),(5.25,22),(5.3,31)]
run26 = [(0,44),(0.05,46),(0.1,43),(0.15,45),(0.2,42),(0.25,44.5),(0.3,43),(0.37,45.5),(0.44,43),(0.51,44.5),(0.58,42.5),(0.65,45),(0.72,43.5),(0.78,44.7),(1.22,44.7),(1.27,42),(1.3,41),(1.34,43.5),(1.38,44.7),(1.74,44.7),(1.77,30),(1.79,12),(1.8,0),(1.83,0),(1.85,26),(1.88,42),(1.91,45.5),(1.95,44),(2.0,40),(2.04,37),(2.08,39),(2.12,43),(2.16,44.7),(2.25,44.7),(2.31,30),(2.36,12),(2.39,0),(2.42,0),(2.46,22),(2.52,37),(2.58,43),(2.65,45),(2.72,42),(2.79,45.5),(2.86,43),(2.93,45),(3.0,42.5),(3.07,44.5),(3.14,43),(3.2,38),(3.26,29),(3.32,19),(3.37,10),(3.41,3),(3.43,0),(3.56,0),(3.59,16),(3.63,32),(3.68,41),(3.74,44.5),(3.81,42),(3.88,45),(3.95,43),(4.02,45.5),(4.09,42.5),(4.16,45),(4.23,43),(4.3,45),(4.37,43),(4.42,38),(4.47,30),(4.51,21),(4.54,11),(4.56,2),(4.57,0),(4.6,0),(4.63,22),(4.67,38),(4.71,44),(4.78,42),(4.85,45),(4.92,43),(4.98,44),(5.03,32),(5.07,14),(5.1,1),(5.11,0),(5.16,0),(5.19,20),(5.23,36),(5.27,43),(5.3,45)]
run27 = [(0,43),(0.05,45),(0.1,42.5),(0.15,44),(0.2,46),(0.25,43),(0.3,44),(0.37,42.5),(0.43,44.7),(0.5,44.7),(0.55,40),(0.61,31),(0.66,22),(0.7,13),(0.73,6),(0.76,1),(0.77,0),(0.79,0),(0.82,18),(0.85,34),(0.89,40),(0.95,41),(1.01,38),(1.07,36),(1.13,35),(1.19,37),(1.24,40),(1.29,40),(1.33,42),(1.37,44.7),(1.76,44.7),(1.78,26),(1.8,6),(1.81,0),(1.83,0),(1.85,18),(1.88,36),(1.92,43),(1.96,44),(2.0,40),(2.04,24),(2.06,8),(2.07,0),(2.1,0),(2.12,24),(2.15,44.7),(2.27,44.7),(2.29,18),(2.31,0),(2.42,0),(2.45,14),(2.5,30),(2.56,39),(2.62,43),(2.69,45),(2.76,42.5),(2.83,44),(2.9,42),(2.97,44.5),(3.04,42.5),(3.1,43),(3.15,38),(3.22,28),(3.28,18),(3.33,9),(3.37,3),(3.4,0),(3.53,0),(3.56,14),(3.6,28),(3.65,38),(3.71,43),(3.78,45),(3.85,42.5),(3.92,44.5),(3.99,42),(4.06,44),(4.13,42.5),(4.2,45),(4.27,43),(4.31,41),(4.33,22),(4.34,0),(4.59,0),(4.61,16),(4.65,32),(4.7,42),(4.76,44.5),(4.83,42),(4.9,45),(4.97,43),(5.04,45.5),(5.11,42.5),(5.17,45),(5.23,43),(5.3,46)]
run28 = [(0,41.5),(0.05,44),(0.1,42),(0.15,45.5),(0.2,43),(0.25,45),(0.3,42.5),(0.37,44.5),(0.44,43),(0.51,45.5),(0.58,42.5),(0.65,44),(0.72,42),(0.78,44.5),(0.82,43),(0.88,37),(0.95,29),(1.02,21),(1.09,14),(1.15,8),(1.2,3),(1.22,0),(1.29,0),(1.31,18),(1.34,36),(1.37,44),(1.41,44.7),(1.75,44.7),(1.77,28),(1.79,8),(1.8,0),(1.83,0),(1.85,20),(1.88,38),(1.91,45),(1.95,46),(1.99,43),(2.02,30),(2.05,10),(2.06,0),(2.09,0),(2.11,28),(2.14,44.7),(2.18,44.7),(2.24,34),(2.3,16),(2.34,0),(2.42,0),(2.45,20),(2.51,36),(2.57,43),(2.63,45.5),(2.7,43),(2.77,45),(2.84,42.5),(2.91,45),(2.98,43),(3.05,45),(3.12,42),(3.18,36),(3.24,26),(3.3,16),(3.35,8),(3.39,2),(3.41,0),(3.56,0),(3.59,18),(3.63,34),(3.68,42),(3.74,45),(3.81,43),(3.88,45.5),(3.95,42.5),(4.02,45),(4.09,43),(4.16,44.5),(4.23,42),(4.3,45),(4.35,43.5),(4.37,30),(4.39,8),(4.4,0),(4.59,0),(4.61,20),(4.65,36),(4.69,43),(4.75,45.5),(4.82,43),(4.89,45),(4.96,42.5),(5.01,40),(5.05,26),(5.08,10),(5.1,0),(5.15,0),(5.18,22),(5.22,38),(5.26,44),(5.3,45)]
run29 = [(0,44.5),(0.05,42),(0.1,45),(0.15,43),(0.2,45.5),(0.25,42.5),(0.3,44),(0.33,42),(0.39,35),(0.46,26),(0.53,18),(0.6,11),(0.66,6),(0.7,2),(0.72,0),(0.78,0),(0.8,18),(0.83,36),(0.86,44),(0.9,44.7),(1.0,44.7),(1.04,40),(1.1,35),(1.16,30),(1.21,24),(1.24,14),(1.26,4),(1.27,0),(1.3,0),(1.32,20),(1.35,38),(1.38,44.7),(1.46,42),(1.52,39),(1.58,38),(1.64,40),(1.7,43),(1.74,44),(1.77,26),(1.79,6),(1.8,0),(1.83,0),(1.85,22),(1.88,40),(1.92,45),(1.96,43.5),(2.0,42),(2.05,40),(2.09,41),(2.13,44.7),(2.24,44.7),(2.26,14),(2.27,0),(2.42,0),(2.45,20),(2.51,35),(2.57,42),(2.63,44.5),(2.7,42),(2.77,45),(2.84,43),(2.91,45.5),(2.98,42.5),(3.05,44),(3.1,37),(3.17,27),(3.24,17),(3.3,9),(3.35,3),(3.37,0),(3.54,0),(3.57,16),(3.61,32),(3.66,41),(3.72,44.5),(3.79,42),(3.86,45),(3.93,43),(4.0,45.5),(4.07,42.5),(4.14,45),(4.21,43),(4.28,44.5),(4.33,43),(4.35,28),(4.37,6),(4.38,0),(4.59,0),(4.61,22),(4.65,38),(4.69,44),(4.76,42),(4.83,45),(4.9,43),(4.97,44.5),(5.02,38),(5.06,20),(5.09,4),(5.1,0),(5.15,0),(5.18,20),(5.22,36),(5.26,43),(5.3,44)]
run30 = [(0,43),(0.05,44.5),(0.1,42),(0.15,45.5),(0.2,43.5),(0.25,41.5),(0.3,44),(0.37,42.5),(0.44,45),(0.51,43),(0.58,44.5),(0.63,38),(0.68,28),(0.72,18),(0.75,8),(0.77,2),(0.78,0),(0.8,0),(0.82,22),(0.85,40),(0.88,44),(0.94,42),(1.0,44.5),(1.06,46),(1.12,43.5),(1.18,45),(1.23,42),(1.29,41.5),(1.33,43),(1.37,44.7),(1.73,44.7),(1.76,24),(1.78,4),(1.79,0),(1.82,0),(1.84,26),(1.87,42),(1.9,46),(1.94,44.5),(1.98,45.5),(2.02,36),(2.05,16),(2.07,2),(2.08,0),(2.1,0),(2.12,32),(2.15,44.7),(2.33,44.7),(2.35,16),(2.36,0),(2.42,0),(2.46,24),(2.52,39),(2.58,44),(2.64,42),(2.7,44.5),(2.76,41),(2.81,38),(2.86,36),(2.91,38),(2.97,41),(3.03,44),(3.1,42),(3.17,45),(3.24,44.7),(3.46,44.7),(3.49,34),(3.52,30),(3.55,34),(3.59,40),(3.64,44),(3.71,42.5),(3.78,45),(3.85,42),(3.9,39),(3.95,37),(4.0,40),(4.06,44),(4.13,42),(4.2,45),(4.27,43),(4.34,45),(4.39,43),(4.44,38),(4.49,31),(4.52,24),(4.55,12),(4.57,2),(4.58,0),(4.6,0),(4.63,24),(4.67,40),(4.71,44.5),(4.78,42),(4.85,45.5),(4.92,43),(4.99,45),(5.06,42.5),(5.12,44.5),(5.18,41),(5.24,43),(5.3,45)]

runs = [run01, run02, run03, run04, run05, run06, run07, run08, run09, run10,
        run11, run12, run13, run14, run15, run16, run17, run18, run19, run20,
        run21, run22, run23, run24, run25, run26, run27, run28, run29, run30]

# ---------------- styling ----------------
FONT = "Liberation Sans, Arial, sans-serif"
CMIN, CMAX = 0, 41
JET_R = [[0, "rgb(128,0,0)"], [0.125, "rgb(255,0,0)"], [0.375, "rgb(255,255,0)"],
         [0.625, "rgb(0,255,255)"], [0.875, "rgb(0,0,255)"], [1, "rgb(0,0,128)"]]
GREEN = "rgb(84,125,62)"
RED = "rgb(222,30,36)"

W, H = 1140, 694
L, R, T, B = 50, 0, 98, 45
plot_w = W - L - R
plot_h = H - T - B


def px_to_paper_x(px):
    return (px - L) / plot_w


def py_to_paper_y(py):
    return (H - B - py) / plot_h


colors = sample_colorscale(JET_R, [(v - CMIN) / (CMAX - CMIN) for v in avg_speed])

fig = go.Figure()
for pts, col in zip(runs, colors):
    fig.add_trace(go.Scatter(
        x=[p[0] for p in pts], y=[p[1] for p in pts], mode="lines",
        line=dict(color=col, width=1.3), opacity=0.9,
        showlegend=False, hoverinfo="skip"))

# colour bar (header); plotly adds 10px padding on each side of the bar
fig.add_trace(go.Scatter(
    x=[None], y=[None], mode="markers", showlegend=False, hoverinfo="skip",
    marker=dict(color=[CMIN], colorscale=JET_R, cmin=CMIN, cmax=CMAX, showscale=True,
                colorbar=dict(orientation="h", x=px_to_paper_x(497.5), xanchor="center",
                              y=py_to_paper_y(20), yanchor="top",
                              len=(375 + 20) / plot_w, lenmode="fraction", thickness=25,
                              outlinewidth=0, tickvals=cbar_ticks, ticks="",
                              ticklabelposition="outside bottom",
                              tickfont=dict(family=FONT, size=14, color="#222")))))

shapes = []
annotations = []
for name, pos, conn in zip(intersection_names, intersection_mi, intersection_connected):
    col = GREEN if conn else RED
    shapes.append(dict(type="line", xref="x", yref="y", x0=pos, x1=pos, y0=0, y1=59.5,
                       line=dict(color=col, width=1.8, dash="6px,4px")))
    annotations.append(dict(x=pos, y=59.4, xref="x", yref="y", text=name, textangle=90,
                            xanchor="left", yanchor="top", xshift=2, showarrow=False,
                            font=dict(family=FONT, size=15, color="#111")))

# header legend
shapes.append(dict(type="line", xref="paper", yref="paper",
                   x0=px_to_paper_x(733), x1=px_to_paper_x(733),
                   y0=py_to_paper_y(15), y1=py_to_paper_y(75),
                   line=dict(color=GREEN, width=1.8, dash="6px,5px")))
shapes.append(dict(type="line", xref="paper", yref="paper",
                   x0=px_to_paper_x(866), x1=px_to_paper_x(866),
                   y0=py_to_paper_y(12), y1=py_to_paper_y(75),
                   line=dict(color=RED, width=1.8, dash="6px,5px")))
shapes.append(dict(type="line", xref="paper", yref="paper",
                   x0=px_to_paper_x(0), x1=px_to_paper_x(1140),
                   y0=py_to_paper_y(86), y1=py_to_paper_y(86),
                   line=dict(color="#ececec", width=1)))

annotations += [
    dict(x=px_to_paper_x(175), y=py_to_paper_y(44), xref="paper", yref="paper",
         text="Avg. Speed (mph)", showarrow=False, xanchor="center", yanchor="middle",
         font=dict(family=FONT, size=15, color="#222")),
    dict(x=px_to_paper_x(798), y=py_to_paper_y(44), xref="paper", yref="paper",
         text="Connected", showarrow=False, xanchor="center", yanchor="middle",
         font=dict(family=FONT, size=15, color=GREEN)),
    dict(x=px_to_paper_x(940), y=py_to_paper_y(44), xref="paper", yref="paper",
         text="Unconnected", showarrow=False, xanchor="center", yanchor="middle",
         font=dict(family=FONT, size=15, color=RED)),
    dict(x=px_to_paper_x(70), y=py_to_paper_y(98), xref="paper", yref="paper",
         text=f"n = {n_runs_total} Vehicle Runs", showarrow=False,
         xanchor="left", yanchor="middle",
         font=dict(family=FONT, size=11, color="#222")),
]

fig.update_layout(
    width=W, height=H, margin=dict(l=L, r=R, t=T, b=B),
    paper_bgcolor="white", plot_bgcolor="white",
    font=dict(family=FONT, color="#333"),
    shapes=shapes, annotations=annotations, showlegend=False,
    xaxis=dict(range=[0, 5.61], tickvals=x_ticks, ticks="inside", ticklen=6,
               tickcolor="#777", showline=True, linecolor="#888", linewidth=1,
               showgrid=False, zeroline=False, mirror=False,
               tickfont=dict(size=12, color="#444"),
               title=dict(text="Cumulative Distance (mi)", standoff=6,
                          font=dict(size=13, color="#444"))),
    yaxis=dict(range=[0, 60], tickvals=y_ticks, ticks="inside", ticklen=6,
               tickcolor="#777", showline=True, linecolor="#888", linewidth=1,
               showgrid=False, zeroline=False,
               tickfont=dict(size=12, color="#444"),
               title=dict(text="Speed (mph)", standoff=4,
                          font=dict(size=13, color="#444"))),
)

fig.write_html("out.html", config={"displayModeBar": False},
               post_script="document.body.style.margin='0';document.body.style.overflow='hidden';")
